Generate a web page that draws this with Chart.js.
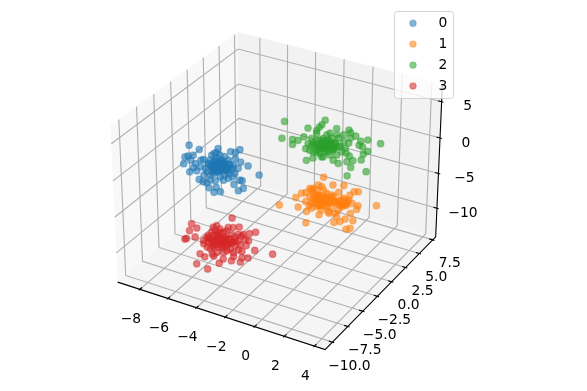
<!DOCTYPE html>
<html><head><meta charset="utf-8">
<style>html,body{margin:0;padding:0;background:#fff}canvas{display:block}</style>
<script src="https://cdn.jsdelivr.net/npm/chart.js@4"></script>
</head><body><canvas id="c" width="587" height="391"></canvas>
<script>
const seriesNames = ['0','1','2','3'];
const xTicks = [-8,-6,-4,-2,0,2,4];
const yTicks = [-10,-7.5,-5,-2.5,0,2.5,5,7.5];
const zTicks = [-10,-5,0,5];
const xLim = [-9.6,4.7];
const yLim = [-11.17,8.06];
const zLim = [-14.17,7.38];
// Depth along y cannot be read from a single view: one estimate per cluster.
const series0Y = -3.24;
const series1Y = -2.35;
const series2Y = -1.05;
const series3Y = -6.24;
const series0X = [-8.04,-7.32,-8.36,-8.13,-8.46,-7.76,-8.04,-7.76,-7.21,-7.02,-5.98,-6.25,-5.10,-4.77,-4.45,-4.77,-4.40,-3.89,-3.13,-4.59,-4.98,-4.47,-4.31,-4.89,-4.24,-4.59,-5.86,-6.16,-6.32,-6.67,-6.83,-7.09,-7.37,-5.63,-6.21,-7.95,-7.60,-7.53,-7.25,-6.90,-6.56,-6.44,-6.09,-5.86,-5.51,-5.28,-4.93,-6.67,-6.44,-6.32,-6.21,-6.09,-6.09,-5.98,-5.91,-5.75,-5.75,-5.68,-5.51,-5.44,-5.28,-5.17,-5.05,-6.32,-6.56,-5.86,-5.51,-6.21,-5.98,-5.86,-6.09,-5.63,-6.32,-6.79,-7.02,-5.28,-4.82,-6.56,-5.86,-5.98,-6.14,-5.68,-6.37,-5.40,-5.9,-5.7,-6.1,-5.5,-6.3,-5.3,-6.5,-5.8,-6.0,-5.6,-6.2,-5.2,-5.4,-6.4,-5.0,-6.7,-5.7,-6.1];
const series0Z = [0.00,-0.20,-1.82,-1.55,-2.82,-1.24,-3.73,-2.97,-1.62,-1.42,0.67,-0.14,0.76,0.81,1.38,-0.02,-0.32,-0.54,-1.36,-1.27,-2.66,-2.83,-2.83,-3.68,-3.86,-4.39,-5.27,-4.83,-5.63,-5.18,-4.57,-4.58,-4.41,-3.51,-3.93,-2.05,-2.32,-3.30,-2.58,-2.61,-1.24,-0.48,0.05,-0.14,-0.17,-0.50,-1.00,-1.78,-2.11,-1.34,-2.21,-0.74,-1.44,-2.54,-1.80,-0.77,-1.47,-2.13,-1.11,-1.77,-2.37,-1.14,-1.77,-2.98,-3.34,-3.17,-2.74,-1.04,-1.14,-2.01,-1.90,-1.64,-1.81,-3.01,-3.61,-3.06,-2.11,-4.04,-1.31,-2.22,-2.63,-0.96,-2.44,-1.97,-1.75,-1.93,-1.57,-1.32,-2.18,-1.70,-2.00,-2.29,-1.21,-1.08,-2.42,-1.04,-2.06,-2.74,-1.43,-1.91,-1.53,-1.97];
const series1X = [-2.12,-0.98,-0.82,-0.59,-0.30,-0.28,-0.25,0.89,1.52,2.25,1.91,2.94,3.21,4.42,3.21,3.12,2.71,2.44,2.71,2.89,2.37,2.03,1.62,0.61,0.09,-0.03,0.54,0.77,2.82,2.59,-0.03,0.09,0.20,0.32,0.43,0.54,0.66,0.77,0.89,1.00,1.11,1.23,1.34,1.46,1.57,1.68,1.80,1.91,2.03,2.14,2.25,2.37,2.48,0.43,0.89,0.20,-0.30,0.66,1.00,1.23,0.77,0.54,1.46,1.68,2.03,0.32,2.66,1.80,1.30,0.09,0.89,1.11,0.66,1.57,1.91,2.14,0.43,1.11,2.37,-0.07,0.77,0.97,0.57,1.17,0.37,1.37,0.17,0.87,0.67,1.07,0.47,1.47,2.14,2.34,1.94,2.24,2.04,2.44];
const series1Z = [-5.61,-3.89,-5.13,-3.07,-2.81,-7.01,-5.40,-0.01,-0.70,-0.36,-1.48,-0.79,-0.64,-1.82,-2.56,-3.11,-3.90,-6.25,-5.96,-4.80,-4.88,-5.44,-5.82,-5.35,-4.74,-2.06,-1.27,-1.36,-2.46,-2.14,-3.20,-4.05,-2.61,-3.45,-4.31,-2.65,-3.49,-4.57,-2.89,-3.75,-2.09,-4.54,-2.86,-3.71,-2.27,-4.50,-3.06,-3.91,-2.46,-3.32,-2.10,-2.96,-2.43,-2.02,-1.75,-1.92,-4.04,-2.80,-2.83,-3.39,-3.65,-4.02,-2.11,-2.90,-3.15,-2.77,-1.42,-4.89,-4.72,-2.22,-3.35,-3.00,-4.09,-2.96,-2.76,-2.86,-3.16,-3.92,-2.27,-4.51,-3.19,-3.37,-3.01,-2.76,-3.62,-3.14,-3.44,-3.73,-2.65,-2.52,-3.86,-2.48,-2.86,-2.75,-3.00,-3.05,-2.65,-2.90];
const series2X = [-2.32,-2.50,-1.77,-1.77,-1.39,-1.00,-0.73,-0.14,0.20,0.42,1.19,2.01,2.12,2.46,3.26,4.09,2.80,2.69,2.92,3.26,2.98,2.85,2.30,2.06,1.90,2.17,1.94,3.19,1.33,0.99,-0.82,-0.37,-0.87,0.20,-0.71,-0.48,1.78,2.01,1.67,0.76,-0.48,-0.37,-0.14,-0.03,0.08,0.20,0.31,0.42,0.54,0.65,0.76,0.88,0.99,1.10,1.22,1.33,1.44,0.42,0.65,0.08,-0.26,-0.60,0.76,0.31,1.56,1.85,-0.14,0.54,0.31,0.88,0.58,0.08,1.10,-0.14,1.22,0.04,2.12,1.67,0.42,0.88,0.42,0.62,0.22,0.82,0.02,1.02,-0.18,0.52,0.32,0.72,0.12,1.12,0.92,-0.08,1.32,-0.38,0.62,0.22];
const series2Z = [4.84,2.46,2.70,2.01,2.78,3.47,4.80,4.78,5.75,6.48,5.79,6.03,5.72,5.47,5.39,5.37,4.98,4.38,4.28,3.88,3.35,2.50,2.09,2.59,1.73,1.10,-0.17,1.11,1.17,1.42,0.37,0.95,1.94,1.42,2.71,3.54,3.48,4.29,5.23,4.94,2.63,1.77,3.50,2.66,1.81,3.24,3.99,2.69,3.67,2.36,3.35,4.33,2.79,3.76,2.24,4.59,3.51,3.37,3.96,2.49,2.75,1.87,1.98,1.48,2.89,2.84,4.41,4.58,3.08,3.64,3.01,3.63,3.08,1.90,4.97,5.34,5.04,4.32,2.23,2.96,3.15,2.97,3.33,3.58,2.72,3.20,2.90,2.61,3.69,3.82,2.48,3.86,2.84,2.16,3.47,2.99,3.37,2.93];
const series3X = [-3.69,-6.56,-6.72,-6.19,-7.07,-6.96,-6.33,-3.20,-3.62,-2.49,-2.07,-2.56,-2.14,-0.91,-2.61,-3.15,-3.78,-4.36,-4.64,-5.48,-6.26,-6.00,-5.67,-5.02,-3.62,-3.03,-2.73,-2.92,-5.02,-4.78,-4.55,-5.13,-5.48,-5.25,-5.02,-4.78,-4.55,-4.32,-4.08,-3.97,-3.73,-3.50,-3.27,-3.03,-5.72,-5.48,-5.25,-4.90,-4.67,-4.43,-4.20,-3.97,-3.85,-3.50,-3.27,-3.15,-4.78,-4.32,-5.37,-4.55,-4.20,-3.73,-5.72,-3.62,-5.02,-4.90,-4.08,-3.27,-3.03,-5.13,-4.67,-5.13,-4.78,-4.43,-3.97,-3.50,-4.55,-4.20,-2.80,-5.37,-4.55,-4.35,-4.75,-4.15,-4.95,-3.95,-5.15,-4.45,-4.65,-4.25,-4.85,-3.85,-4.05,-5.05,-3.65,-5.35,-4.35,-4.75];
const series3Z = [-5.38,-7.90,-8.98,-8.29,-10.40,-10.24,-9.64,-6.33,-6.66,-6.81,-6.37,-7.84,-8.95,-8.71,-10.31,-11.23,-11.45,-11.56,-12.33,-13.71,-13.46,-11.85,-12.08,-11.56,-10.75,-10.55,-8.64,-7.20,-7.47,-7.09,-7.43,-8.24,-9.15,-9.25,-8.64,-8.27,-8.61,-7.77,-7.40,-6.86,-7.67,-8.00,-7.40,-7.49,-10.23,-10.56,-10.67,-9.52,-10.09,-9.01,-9.59,-8.50,-9.86,-9.18,-9.52,-8.74,-10.86,-10.60,-9.80,-9.55,-8.41,-8.85,-9.76,-10.19,-10.29,-7.87,-10.22,-8.34,-9.61,-11.30,-8.21,-9.66,-8.97,-9.95,-9.21,-8.47,-7.90,-9.12,-7.83,-8.85,-9.08,-9.26,-8.90,-8.65,-9.51,-9.03,-9.33,-9.62,-8.54,-8.41,-9.75,-8.37,-9.39,-10.07,-8.76,-9.24,-8.86,-9.30];

const seriesRGB = ['31,119,180','255,127,14','44,160,44','214,39,40'];
const ALPHA = 0.6;
// Matplotlib-style 3D camera: elevation 30, azimuth -60, distance 10, box 4:4:3.
const U=[0.8660254,0.5,0], V=[-0.25,0.4330127,0.8660254], E=[0.4330127,-0.75,0.5];
const BOX=[1.142857,1.142857,0.857143], DIST=10;
function project(x,y,z){
  const p=[BOX[0]*((x-xLim[0])/(xLim[1]-xLim[0])-.5),
           BOX[1]*((y-yLim[0])/(yLim[1]-yLim[0])-.5),
           BOX[2]*((z-zLim[0])/(zLim[1]-zLim[0])-.5)];
  const dot=a=>a[0]*p[0]+a[1]*p[1]+a[2]*p[2];
  const d=DIST-dot(E);
  return {x:dot(U)/d,y:dot(V)/d};
}
const sets=[[series0X,series0Y,series0Z],[series1X,series1Y,series1Z],[series2X,series2Y,series2Z],[series3X,series3Y,series3Z]];
const datasets=sets.map((s,k)=>({
  label:seriesNames[k],
  data:s[0].map((x,i)=>project(x,s[1],s[2][i])),
  backgroundColor:`rgba(${seriesRGB[k]},${ALPHA})`,
  borderColor:`rgba(${seriesRGB[k]},0.4)`,
  borderWidth:1.2,pointRadius:3.3,pointHoverRadius:3.3,clip:false
}));

function markerImage(rgb){
  const c=document.createElement('canvas');c.width=c.height=10;
  const g=c.getContext('2d');
  g.beginPath();g.arc(5,5,3.3,0,Math.PI*2);
  g.fillStyle=`rgba(${rgb},0.55)`;g.fill();
  g.strokeStyle=`rgba(${rgb},0.4)`;g.lineWidth=1;g.stroke();
  return c;
}
const markers=seriesRGB.map(markerImage);
const FONT='13.89px "DejaVu Sans"';

const frame={
  id:'frame3d',
  beforeLayout(chart){
    const lg=chart.legend;
    lg._layers=()=>[{z:10,draw(){
      const c=chart.ctx;
      c.save();c.beginPath();c.roundRect(394.5,11.5,59,87,3);
      c.fillStyle='rgba(255,255,255,0.8)';c.fill();
      c.strokeStyle='rgba(204,204,204,0.8)';c.lineWidth=1;c.stroke();c.restore();
      lg.draw();
    }}];
  },
  afterLayout(chart){
    const lg=chart.legend;
    lg.left=387.5;lg.right=470;lg.top=9.35;lg.bottom=110;lg.width=82.5;lg.height=100.65;
  },
  beforeDatasetsDraw(chart){
    const c=chart.ctx,sx=chart.scales.x,sy=chart.scales.y;
    const P=(x,y,z)=>{const q=project(x,y,z);return [sx.getPixelForValue(q.x),sy.getPixelForValue(q.y)];};
    const [x0,x1]=xLim,[y0,y1]=yLim,[z0,z1]=zLim;
    const poly=(pts,col)=>{c.beginPath();pts.forEach((p,i)=>i?c.lineTo(p[0],p[1]):c.moveTo(p[0],p[1]));c.closePath();c.fillStyle=col;c.fill();};
    const path=(pts,col,w)=>{c.beginPath();pts.forEach((p,i)=>i?c.lineTo(p[0],p[1]):c.moveTo(p[0],p[1]));c.strokeStyle=col;c.lineWidth=w;c.stroke();};
    c.save();
    poly([P(x0,y0,z0),P(x0,y1,z0),P(x0,y1,z1),P(x0,y0,z1)],'rgba(242,242,242,0.5)');
    poly([P(x0,y1,z0),P(x1,y1,z0),P(x1,y1,z1),P(x0,y1,z1)],'rgba(230,230,230,0.5)');
    poly([P(x0,y0,z0),P(x1,y0,z0),P(x1,y1,z0),P(x0,y1,z0)],'rgba(236,236,236,0.5)');
    const G='#b0b0b0',W=1.11;
    xTicks.forEach(t=>path([P(t,y0,z0),P(t,y1,z0),P(t,y1,z1)],G,W));
    yTicks.forEach(t=>path([P(x1,t,z0),P(x0,t,z0),P(x0,t,z1)],G,W));
    zTicks.forEach(t=>path([P(x0,y0,t),P(x0,y1,t),P(x1,y1,t)],G,W));
    const K='#000';
    path([P(x0,y0,z0),P(x1,y0,z0),P(x1,y1,z0),P(x1,y1,z1)],K,W);
    const dy=(y1-y0)/12,dx=(x1-x0)/12;
    xTicks.forEach(t=>path([P(t,y0-.1*dy,z0),P(t,y0+.2*dy,z0)],K,W));
    yTicks.forEach(t=>path([P(x1+.1*dx,t,z0),P(x1-.2*dx,t,z0)],K,W));
    zTicks.forEach(t=>path([P(x1+.1*dx,y1,t),P(x1-.2*dx,y1,t)],K,W));
    c.fillStyle='#000';c.font=FONT;c.textAlign='center';c.textBaseline='middle';
    const fmt=(t,d)=>(t<0?'\u2212':'')+Math.abs(t).toFixed(d);
    xTicks.forEach(t=>{const p=P(t,y0,z0);c.fillText(fmt(t,0),p[0]-9,p[1]+30);});
    yTicks.forEach(t=>{const p=P(x1,t,z0);c.fillText(fmt(t,1),p[0]+17,p[1]+24);});
    zTicks.forEach(t=>{const p=P(x1,y1,t);c.fillText(fmt(t,0),p[0]+26,p[1]+5);});
    c.restore();
  }
};

new Chart(document.getElementById('c'),{
  type:'scatter',
  data:{datasets},
  plugins:[frame],
  options:{
    responsive:false,animation:false,devicePixelRatio:1,
    layout:{padding:0,autoPadding:false},
    events:[],
    scales:{
      x:{type:'linear',display:false,min:-279.5/2080,max:307.5/2080},
      y:{type:'linear',display:false,min:-207.5/2080,max:183.5/2080}
    },
    plugins:{
      tooltip:{enabled:false},
      legend:{
        display:true,position:'chartArea',align:'start',
        labels:{
          usePointStyle:true,pointStyleWidth:37,padding:7,color:'#000',
          font:{family:'DejaVu Sans',size:13.89},
          generateLabels(chart){
            return Chart.defaults.plugins.legend.labels.generateLabels(chart)
              .map((it,i)=>Object.assign(it,{pointStyle:markers[i]}));
          }
        }
      }
    }
  }
});
</script></body></html>
